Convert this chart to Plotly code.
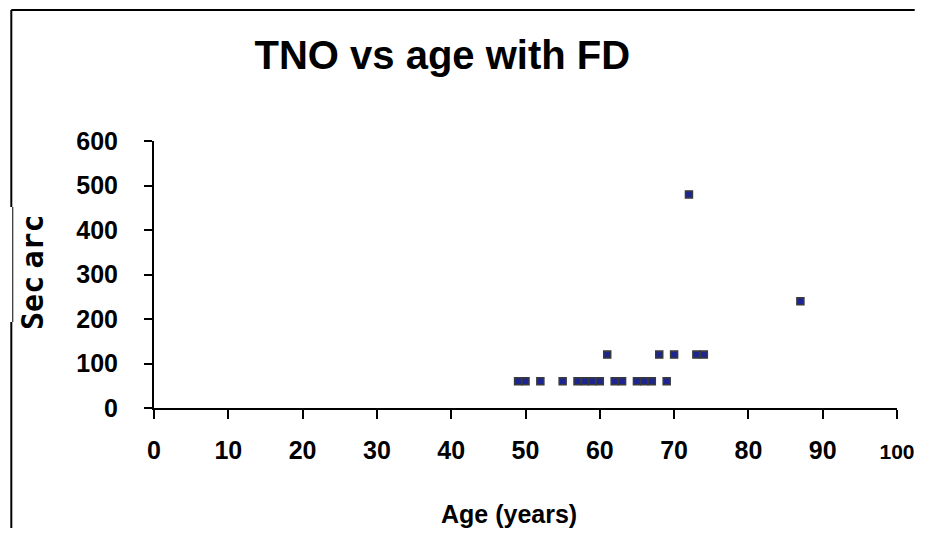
import plotly.graph_objects as go

# Data
age = [49, 50, 52, 55, 57, 58, 59, 60, 62, 63, 65, 66, 67, 69,
       61, 68, 70, 73, 74, 72, 87]
sec_arc = [60, 60, 60, 60, 60, 60, 60, 60, 60, 60, 60, 60, 60, 60,
           120, 120, 120, 120, 120, 480, 240]

x_ticks = [0, 10, 20, 30, 40, 50, 60, 70, 80, 90, 100]
y_ticks = [0, 100, 200, 300, 400, 500, 600]

OFF = 8                      # page body margin
W, H = 935 - 2 * OFF, 536 - 2 * OFF
L, R, T, B = 154 - OFF, W - (909 - OFF), 141 - OFF, H - (408 - OFF)
pw, ph = W - L - R, H - T - B

def px_to_paper_x(px):      # screen px -> paper coords
    return (px - OFF - L) / pw

def px_to_paper_y(py):
    return (H - B - (py - OFF)) / ph

# last x label slightly smaller so it stays inside the page
x_text = [str(v) for v in x_ticks]
x_text[-1] = "<span style='font-size:21px'>" + x_text[-1] + "</span>"

fig = go.Figure()
fig.add_trace(go.Scatter(
    x=age, y=sec_arc, mode="markers",
    marker=dict(symbol="square", size=7, color="#1c2590",
                line=dict(color="#3a3a3a", width=1.5)),
    showlegend=False, hoverinfo="x+y",
))

bold = dict(family="Liberation Sans, Arial, sans-serif", color="black", weight="bold")

fig.update_layout(
    width=W, height=H, autosize=False,
    margin=dict(l=L, r=R, t=T, b=B),
    paper_bgcolor="white", plot_bgcolor="white",
    title=dict(text="TNO vs age with FD", x=px_to_paper_x(447), xref="paper",
               xanchor="center", y=1 - (55 - OFF) / H, yanchor="middle",
               font=dict(size=40, **bold)),
    xaxis=dict(range=[0, 100], tickvals=x_ticks, ticktext=x_text,
               showgrid=False, zeroline=False, showline=True, linecolor="black",
               linewidth=2, ticks="outside", ticklen=9, tickwidth=2, tickcolor="black",
               tickfont=dict(size=25, **bold), ticklabelstandoff=10),
    yaxis=dict(range=[0, 600], tickvals=y_ticks, ticktext=[str(v) for v in y_ticks],
               showgrid=False, zeroline=False, showline=True, linecolor="black",
               linewidth=2, ticks="outside", ticklen=8, tickwidth=2, tickcolor="black",
               tickfont=dict(size=25, **bold), ticklabelstandoff=21),
)

fig.add_annotation(text="Age (years)", xref="paper", yref="paper",
                   x=px_to_paper_x(515), y=px_to_paper_y(514),
                   xanchor="center", yanchor="middle", showarrow=False,
                   font=dict(size=25, **bold))
fig.add_annotation(text="Sec<span style='font-size:12px'> </span>arc",
                   xref="paper", yref="paper",
                   x=px_to_paper_x(30), y=px_to_paper_y(272), textangle=-90,
                   xanchor="center", yanchor="middle", showarrow=False,
                   font=dict(size=30, family="DejaVu Sans Mono, monospace",
                             color="black", weight="bold"))

# outer frame lines (document border), kept inside the figure area
line = dict(color="black", width=2)
fig.add_shape(type="line", xref="paper", yref="paper",
              x0=px_to_paper_x(9), x1=px_to_paper_x(W + OFF),
              y0=px_to_paper_y(10), y1=px_to_paper_y(10), line=line)
fig.add_shape(type="line", xref="paper", yref="paper",
              x0=px_to_paper_x(9), x1=px_to_paper_x(9),
              y0=px_to_paper_y(10), y1=px_to_paper_y(207), line=line)
fig.add_shape(type="line", xref="paper", yref="paper",
              x0=px_to_paper_x(10.5), x1=px_to_paper_x(10.5),
              y0=px_to_paper_y(207), y1=px_to_paper_y(322), line=dict(color="black", width=1))
fig.add_shape(type="line", xref="paper", yref="paper",
              x0=px_to_paper_x(9), x1=px_to_paper_x(9),
              y0=px_to_paper_y(322), y1=px_to_paper_y(H + OFF), line=line)

fig.write_html("out.html", config={"displayModeBar": False})
